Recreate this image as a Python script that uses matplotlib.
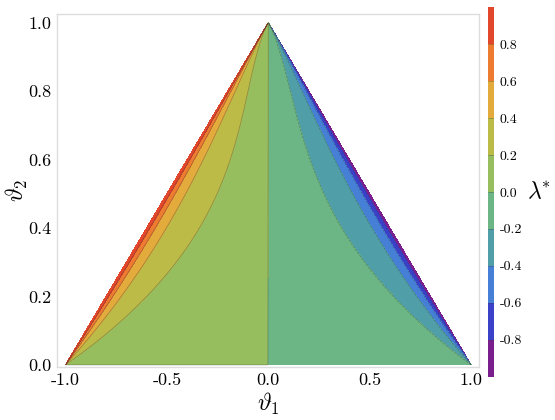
import numpy as np
import matplotlib
matplotlib.use("Agg")
import matplotlib.pyplot as plt

# contour levels of lambda* and the colour of each band (low -> high)
LEVELS = [-1.0, -0.8, -0.6, -0.4, -0.2, 0.0, 0.2, 0.4, 0.6, 0.8, 1.0]
BAND_COLORS = ["#7b1f8e", "#3b40c9", "#4680d6", "#509fa8", "#6cb584",
               "#96be5e", "#bdbb48", "#e3aa3c", "#ee7c30", "#e2462b"]
CBAR_TICKS = [-0.8, -0.6, -0.4, -0.2, 0.0, 0.2, 0.4, 0.6, 0.8]
CBAR_LABELS = ["-0.8", "-0.6", "-0.4", "-0.2", "0.0", "0.2", "0.4", "0.6", "0.8"]
XTICKS = [-1.0, -0.5, 0.0, 0.5, 1.0]
XTICK_LABELS = ["-1.0", "-0.5", "0.0", "0.5", "1.0"]
YTICKS = [0.0, 0.2, 0.4, 0.6, 0.8, 1.0]
YTICK_LABELS = ["0.0", "0.2", "0.4", "0.6", "0.8", "1.0"]
# width scale of the lambda* transition near the left / right triangle edges
EDGE_SCALE_LEFT = 0.35
EDGE_SCALE_RIGHT = 0.32

plt.rcParams.update({
    "font.family": "serif",
    "font.serif": ["cmr10", "DejaVu Serif"],
    "mathtext.fontset": "cm",
    "axes.unicode_minus": False,
    "axes.formatter.use_mathtext": True,
})

# curvilinear grid covering the triangle |theta1| <= 1 - theta2, theta2 in [0, 1]
u = np.sin(np.linspace(-np.pi / 2, np.pi / 2, 801))
v = np.linspace(0.0, 1.0, 401)
U, V = np.meshgrid(u, v)
X = U * (1.0 - V)
Y = V
scale = np.where(U < 0, EDGE_SCALE_LEFT, EDGE_SCALE_RIGHT)
a = scale * V * np.sqrt(1.0 - V)
d = 1.0 - np.abs(U)
Z = -np.sign(U) * a / (a + d + 1e-12)
Z = np.clip(Z, -1.0, 1.0)

fig = plt.figure(figsize=(5.55, 4.2), dpi=100)
ax = fig.add_axes([0.1032, 0.1262, 0.7604, 0.8398])
cf = ax.contourf(X, Y, Z, levels=LEVELS, colors=BAND_COLORS)
cs = ax.contour(X, Y, Z, levels=LEVELS[1:-1], colors="#333333", linewidths=0.5, alpha=0.4)

ax.set_xlim(-1.04, 1.04)
ax.set_ylim(-0.006, 1.024)
ax.set_xticks(XTICKS)
ax.set_xticklabels(XTICK_LABELS)
ax.set_yticks(YTICKS)
ax.set_yticklabels(YTICK_LABELS)
ax.tick_params(length=0, labelsize=13, pad=4)
for s in ax.spines.values():
    s.set_color("#dddddd")
    s.set_linewidth(1.0)
ax.set_xlabel(r"$\vartheta_1$", fontsize=17, labelpad=2)
ax.set_ylabel(r"$\vartheta_2$", fontsize=17, labelpad=-1)

cax = fig.add_axes([0.8798, 0.1031, 0.0108, 0.8795])
cb = fig.colorbar(cf, cax=cax, ticks=CBAR_TICKS)
cb.add_lines(cs)
cb.ax.set_yticklabels(CBAR_LABELS)
cb.ax.tick_params(length=0, labelsize=10, pad=4)
cb.outline.set_visible(False)
cb.set_label(r"$\lambda^{\!\!*}$", fontsize=17, rotation=0, labelpad=12, va="center")

fig.savefig("out.png", dpi=100)
